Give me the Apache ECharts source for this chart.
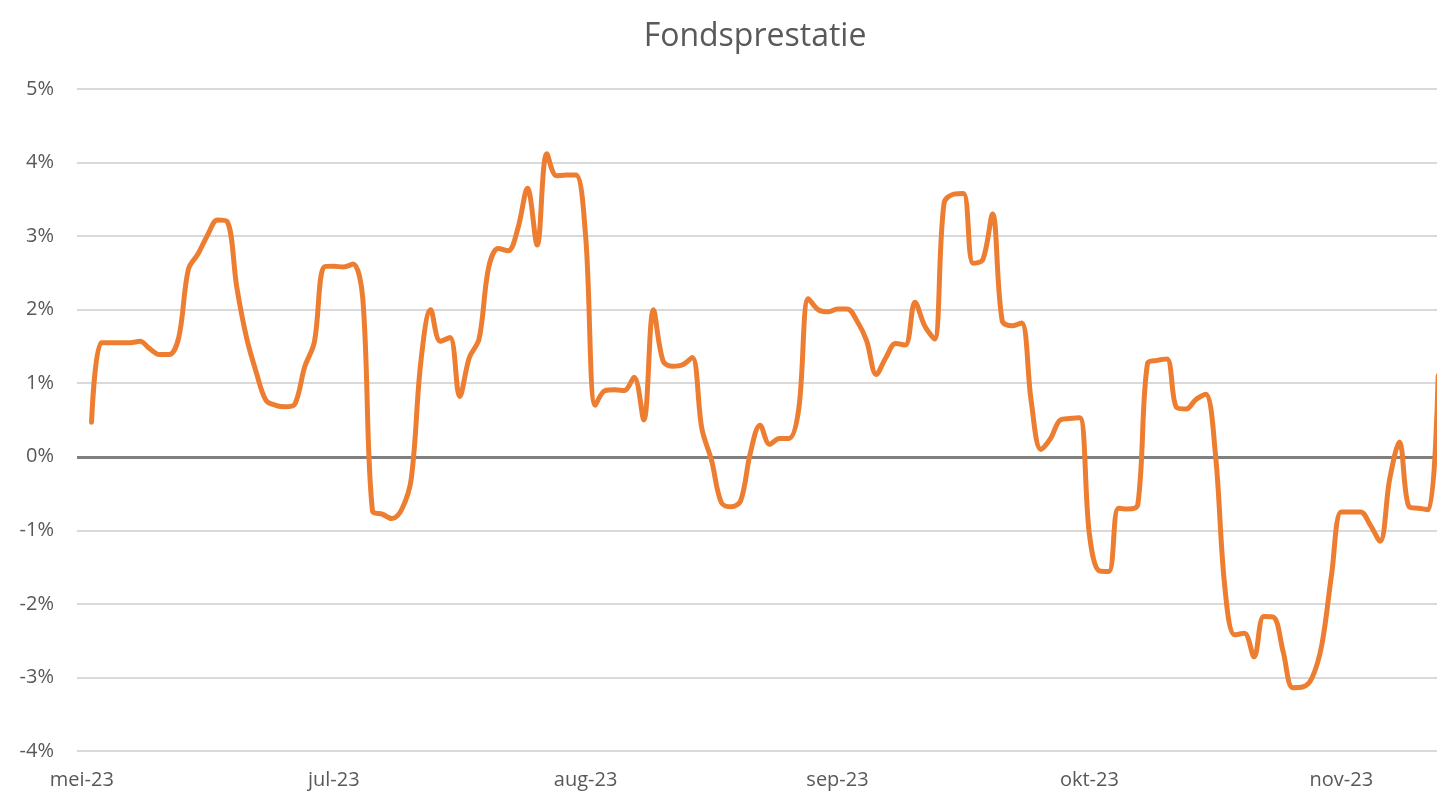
<!DOCTYPE html>
<html>
<head>
<meta charset="utf-8">
<title>Fondsprestatie</title>
<script src="https://cdn.jsdelivr.net/npm/echarts@6/dist/echarts.min.js"></script>
<style>
  html, body { margin: 0; padding: 0; background: #fff; overflow: hidden; }
  /* iets breder dan het venster: de grafiek loopt rechts door, zoals in het origineel */
  #chart { width: 1443px; height: 791px; }
</style>
</head>
<body>
<div id="chart"></div>
<script>
// maandlabels op de x-as, één label per 26 punten
const monthLabels = ['mei-23', 'jul-23', 'aug-23', 'sep-23', 'okt-23', 'nov-23'];
const labelStep = 26;

// rendement van het fonds in %
const fundReturn = [
  null, 0.47, 1.55, 1.55, 1.55, 1.55, 1.57, 1.47, 1.39, 1.39,
  1.62, 2.55, 2.76, 3.02, 3.22, 3.2, 2.3, 1.62, 1.15, 0.77,
  0.70, 0.68, 0.72, 1.22, 1.56, 2.58, 2.59, 2.58, 2.62, 2.15,
  -0.74, -0.78, -0.84, -0.72, -0.3, 1.3, 2.0, 1.57, 1.62, 0.82,
  1.35, 1.6, 2.58, 2.83, 2.8, 3.1, 3.65, 2.88, 4.12, 3.82,
  3.83, 3.83, 3.0, 0.7, 0.9, 0.91, 0.9, 1.08, 0.5, 2.0,
  1.3, 1.23, 1.25, 1.35, 0.38, -0.05, -0.62, -0.68, -0.6, 0.05,
  0.43, 0.17, 0.25, 0.25, 0.65, 2.15, 2.0, 1.97, 2.01, 2.01,
  1.85, 1.58, 1.12, 1.35, 1.54, 1.52, 2.1, 1.78, 1.6, 3.45,
  3.57, 3.58, 2.63, 2.68, 3.3, 1.85, 1.78, 1.82, 0.75, 0.1,
  0.25, 0.5, 0.52, 0.53, -1.05, -1.55, -1.56, -0.7, -0.71, -0.65,
  1.27, 1.31, 1.33, 0.67, 0.65, 0.78, 0.85, 0.05, -1.8, -2.42,
  -2.40, -2.72, -2.17, -2.18, -2.65, -3.14, -3.13, -3.0, -2.55, -1.6,
  -0.75, -0.75, -0.75, -0.93, -1.15, -0.3, 0.2, -0.68, -0.70, -0.72,
  1.1
];

// y-as in procenten
const yMin = -4;
const yMax = 5;
const yStep = 1;

const categories = fundReturn.map((v, i) => i);

const chart = echarts.init(document.getElementById('chart'));

const option = {
  animation: false,
  textStyle: { fontFamily: 'Open Sans' },
  title: {
    text: 'Fondsprestatie',
    left: 750,
    top: 16,
    textAlign: 'center',
    textStyle: {
      color: '#595959',
      fontSize: 32,
      fontWeight: 'normal',
      fontFamily: 'Open Sans'
    }
  },
  grid: {
    left: 77,
    right: 0,
    top: 89,
    bottom: 40
  },
  xAxis: {
    type: 'category',
    data: categories,
    boundaryGap: true,
    axisLine: { show: false },
    axisTick: { show: false },
    axisLabel: {
      interval: labelStep - 1,
      margin: 19,
      color: '#595959',
      fontSize: 20,
      formatter: (value, index) => monthLabels[index / labelStep] || ''
    }
  },
  yAxis: {
    type: 'value',
    min: yMin,
    max: yMax,
    interval: yStep,
    axisLine: { show: false },
    axisTick: { show: false },
    axisLabel: {
      margin: 23,
      color: '#595959',
      fontSize: 20,
      formatter: '{value}%'
    },
    splitLine: {
      lineStyle: { color: '#D9D9D9', width: 2 }
    }
  },
  series: [
    {
      type: 'line',
      data: fundReturn,
      smooth: 0.35,
      showSymbol: false,
      connectNulls: false,
      lineStyle: {
        color: '#ED7D31',
        width: 5,
        cap: 'round',
        join: 'round'
      },
      z: 3,
      // nullijn
      markLine: {
        silent: true,
        symbol: ['none', 'none'],
        label: { show: false },
        lineStyle: { color: '#7F7F7F', width: 3, type: 'solid' },
        data: [{ yAxis: 0 }],
        z: 1
      }
    }
  ]
};

chart.setOption(option);
</script>
</body>
</html>
